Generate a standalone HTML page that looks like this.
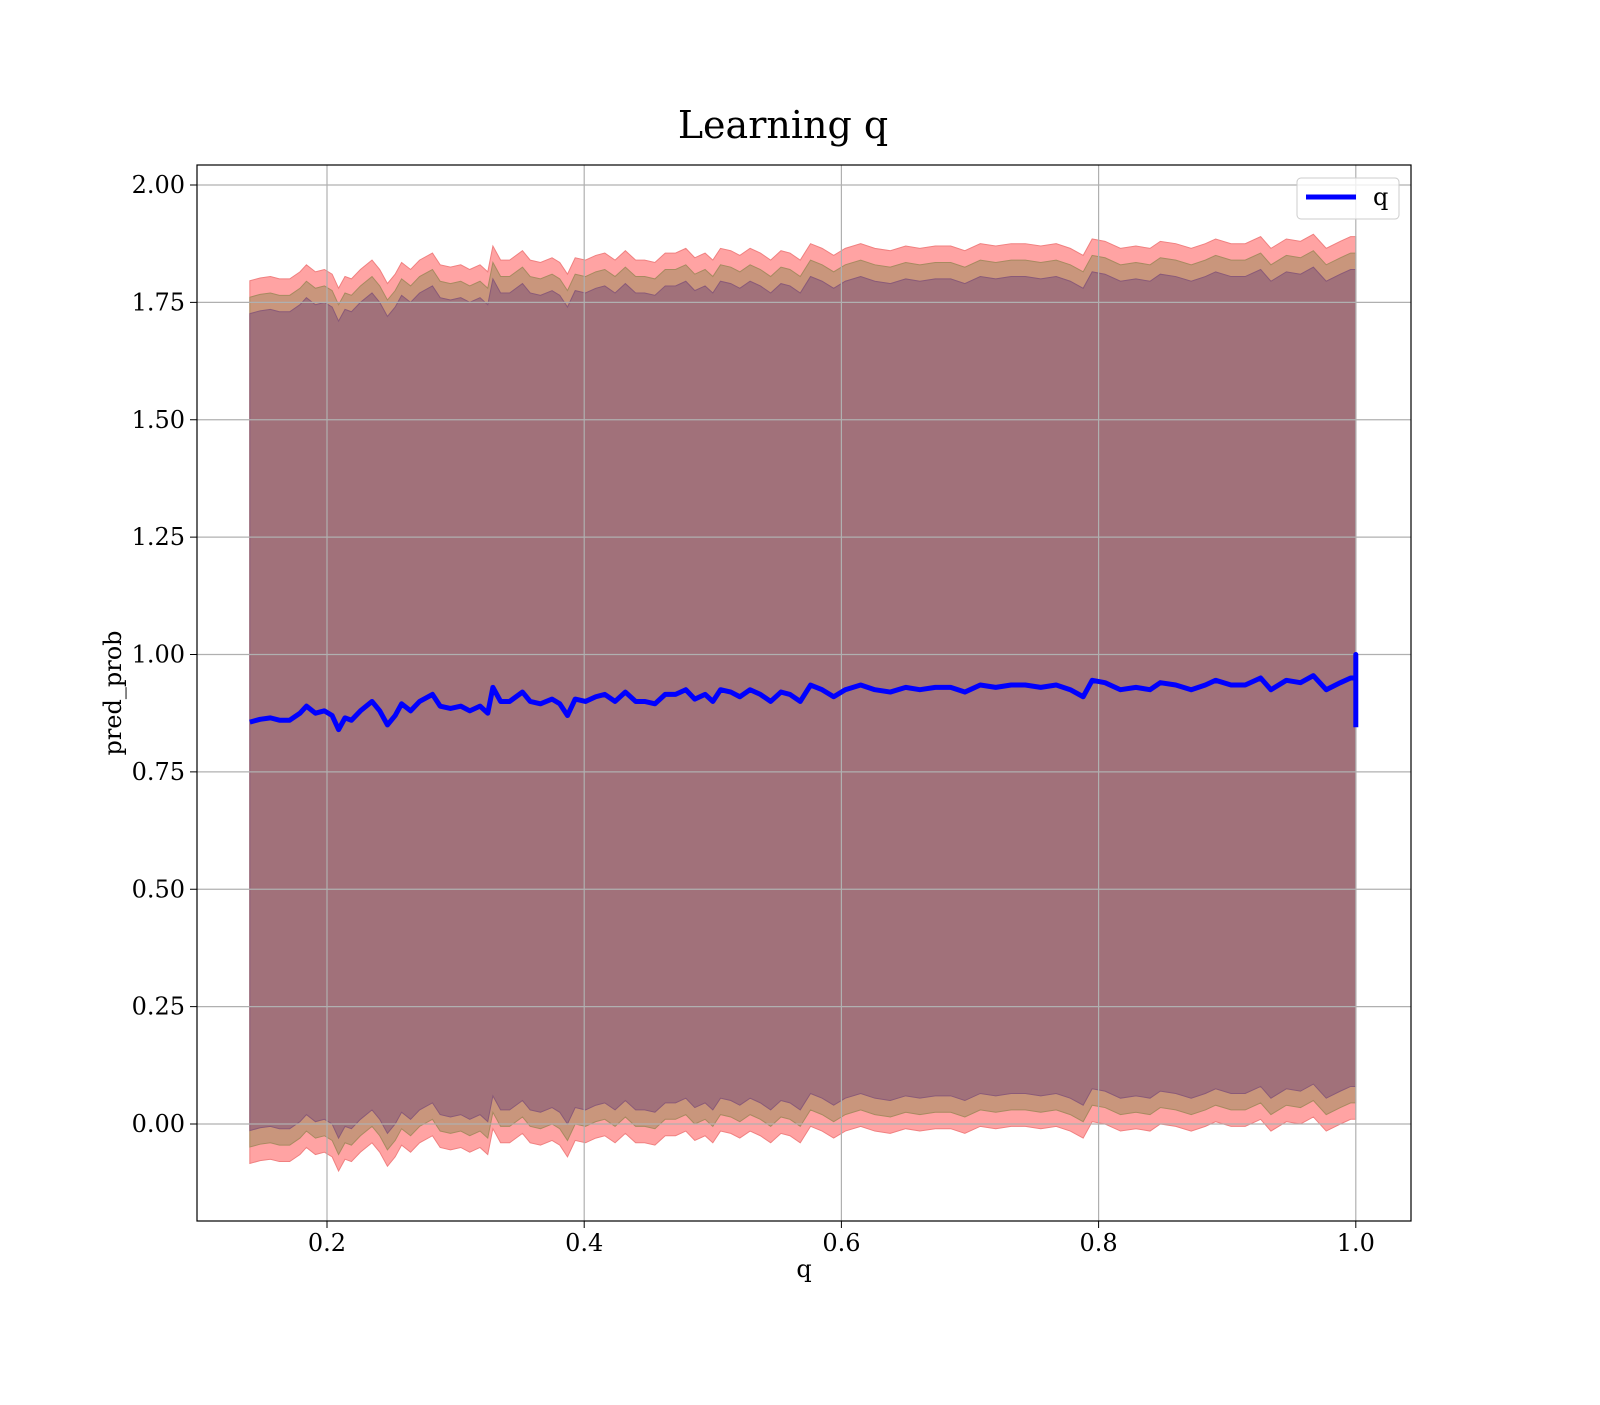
<!DOCTYPE html>
<html><head><meta charset="utf-8"><style>
body{margin:0;background:#fff}
svg text{font-family:"DejaVu Serif","Liberation Serif",serif;fill:#000}
</style></head><body>
<svg width="1600" height="1400" viewBox="0 0 1600 1400">
<g id="bands"></g>
<g id="grid"></g>
<g id="lines"></g>
<rect x="197" y="165" width="1214" height="1056" fill="none" stroke="#000" stroke-width="1.2"/>
<g id="ticks"></g>
<text x="783" y="138" font-size="38" text-anchor="middle">Learning q</text>
<text x="804" y="1277" font-size="24" text-anchor="middle">q</text>
<text x="0" y="0" font-size="24" text-anchor="middle" transform="translate(121,693) rotate(-90)">pred_prob</text>
<g>
<rect x="1297" y="178" width="102" height="41" rx="4" fill="#fff" fill-opacity="0.8" stroke="#ccc"/>
<line x1="1306" y1="197" x2="1356" y2="197" stroke="#0000ff" stroke-width="5"/>
<text x="1373" y="205" font-size="24">q</text>
</g>
</svg>
<script>
const qVals=[0.140,0.148,0.156,0.163,0.171,0.179,0.184,0.191,0.198,0.204,0.209,0.214,0.219,0.226,0.235,0.241,0.247,0.253,0.258,0.265,0.272,0.282,0.288,0.296,0.304,0.311,0.319,0.325,0.329,0.335,0.342,0.352,0.358,0.366,0.375,0.381,0.387,0.393,0.401,0.409,0.416,0.424,0.432,0.440,0.447,0.455,0.463,0.471,0.479,0.486,0.494,0.500,0.506,0.514,0.521,0.529,0.537,0.545,0.553,0.560,0.568,0.576,0.585,0.594,0.603,0.615,0.626,0.638,0.650,0.661,0.673,0.685,0.696,0.708,0.720,0.732,0.743,0.755,0.767,0.778,0.788,0.795,0.805,0.817,0.829,0.840,0.848,0.860,0.872,0.883,0.891,0.903,0.914,0.926,0.934,0.946,0.957,0.967,0.977,0.988,0.996,1.0];
const meanVals=[0.856,0.862,0.865,0.86,0.86,0.875,0.89,0.875,0.88,0.87,0.84,0.865,0.86,0.88,0.9,0.88,0.85,0.87,0.895,0.88,0.9,0.915,0.89,0.885,0.89,0.88,0.89,0.875,0.93,0.9,0.9,0.92,0.9,0.895,0.905,0.895,0.87,0.905,0.9,0.91,0.915,0.9,0.92,0.9,0.9,0.895,0.915,0.915,0.925,0.905,0.915,0.9,0.925,0.92,0.91,0.925,0.915,0.9,0.92,0.915,0.9,0.935,0.925,0.91,0.925,0.935,0.925,0.92,0.93,0.925,0.93,0.93,0.92,0.935,0.93,0.935,0.935,0.93,0.935,0.925,0.91,0.945,0.94,0.925,0.93,0.925,0.94,0.935,0.925,0.935,0.945,0.935,0.935,0.95,0.925,0.945,0.94,0.955,0.925,0.94,0.95,0.95];
const endSpikeVals=[1.0,0.845];
const bandHalfWidths=[0.94,0.905,0.87];
const bandColors=["#ffa3a3","#c9967c","#a1717a"];
const bandEdges=["#f08080","#a88a60","#8a5a78"];
const xTicks=[0.2,0.4,0.6,0.8,1.0];
const xTickLabels=["0.2","0.4","0.6","0.8","1.0"];
const yTicks=[0,0.25,0.5,0.75,1.0,1.25,1.5,1.75,2.0];
const yTickLabels=["0.00","0.25","0.50","0.75","1.00","1.25","1.50","1.75","2.00"];
const X=q=>327+(q-0.2)*1286;
const Y=v=>1124-v*469.5;
const NS="http://www.w3.org/2000/svg";
function mk(t,a,p){const e=document.createElementNS(NS,t);for(const k in a)e.setAttribute(k,a[k]);p.appendChild(e);return e;}
const bands=document.getElementById('bands');
bandHalfWidths.forEach((h,i)=>{
  const up=qVals.map((q,j)=>X(q)+','+Y(meanVals[j]+h));
  const lo=qVals.map((q,j)=>X(q)+','+Y(meanVals[j]-h)).reverse();
  const p=mk('polygon',{points:up.concat(lo).join(' '),fill:bandColors[i],stroke:bandEdges[i],'stroke-width':1},bands);
  
  
});
const grid=document.getElementById('grid'),ticks=document.getElementById('ticks');
xTicks.forEach((t,i)=>{
  const l=mk('line',{x1:X(t),x2:X(t),y1:165,y2:1221,stroke:'#b0b0b0','stroke-width':1.2},grid);
  
  
  const k=mk('line',{x1:X(t),x2:X(t),y1:1221,y2:1228,stroke:'#000'},ticks);
  
  
  const tx=mk('text',{x:X(t),y:1251,'font-size':24,'text-anchor':'middle'},ticks);
  tx.textContent=xTickLabels[i];
  
  
});
yTicks.forEach((t,i)=>{
  const l=mk('line',{x1:197,x2:1411,y1:Y(t),y2:Y(t),stroke:'#b0b0b0','stroke-width':1.2},grid);
  
  
  const k=mk('line',{x1:190,x2:197,y1:Y(t),y2:Y(t),stroke:'#000'},ticks);
  
  
  const tx=mk('text',{x:185,y:Y(t)+8,'font-size':24,'text-anchor':'end'},ticks);
  tx.textContent=yTickLabels[i];
  
  
});
const lastQ=qVals[qVals.length-1];
const pts=qVals.map((q,j)=>X(q)+','+Y(meanVals[j])).concat(endSpikeVals.map(v=>X(lastQ)+','+Y(v)));
const ln=mk('polyline',{points:pts.join(' '),fill:'none',stroke:'#0000ff','stroke-width':5,'stroke-linejoin':'round'},document.getElementById('lines'));


</script>
</body></html>
